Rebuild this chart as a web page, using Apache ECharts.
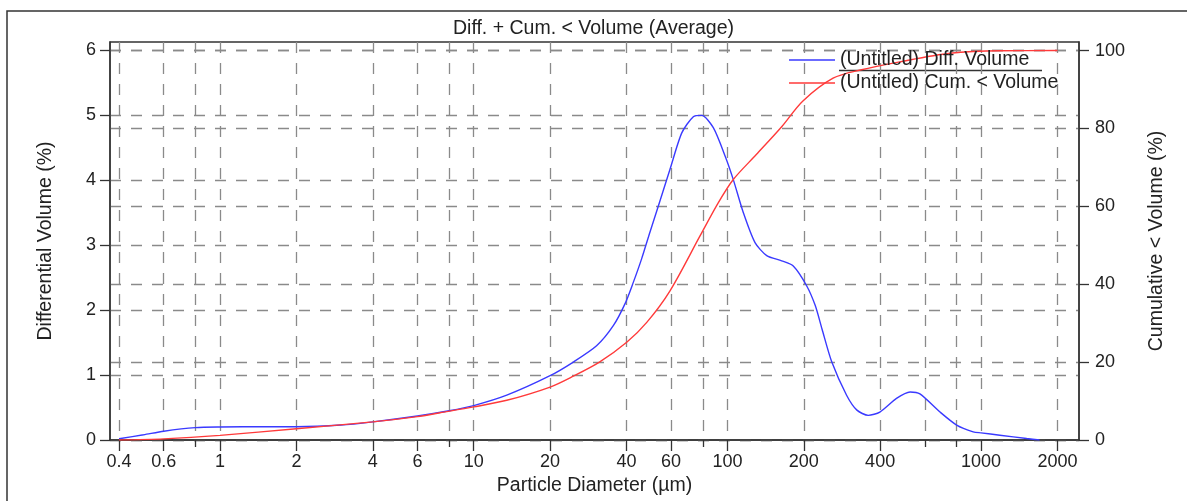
<!DOCTYPE html>
<html>
<head>
<meta charset="utf-8">
<script src="https://cdn.jsdelivr.net/npm/echarts@6/dist/echarts.min.js"></script>
<style>
  html, body { margin: 0; padding: 0; background: #fff; }
  #chart { width: 1187px; height: 501px; }
</style>
</head>
<body>
<div id="chart"></div>
<script>
// particle diameters (um) and values
const diffSizes = [0.4, 0.5, 0.6, 0.8, 1, 1.5, 2, 3, 4, 6, 8, 10, 13.5, 20, 24.7, 30.5, 35.5, 39.5, 42.5, 45.9, 49.5,
    53.4, 59.4, 66.1, 73.4, 79.2, 88, 98, 105.5, 115.6, 128.5, 142.9, 163.7, 181.8, 205, 222, 236, 258,
    295, 324, 359, 399, 464, 525, 574, 689, 801, 931, 1000, 1186, 1513, 1700]
const diffValues = [0.02, 0.08, 0.135, 0.19, 0.2, 0.205, 0.205, 0.23, 0.28, 0.37, 0.45, 0.53, 0.69, 0.99, 1.2, 1.45, 1.76, 2.1, 2.42, 2.79, 3.2,
    3.6, 4.17, 4.73, 4.98, 5.0, 4.81, 4.37, 4.01, 3.5, 3.04, 2.84, 2.76, 2.68, 2.38, 2.07, 1.71, 1.2,
    0.69, 0.46, 0.38, 0.43, 0.64, 0.74, 0.71, 0.43, 0.23, 0.126, 0.11, 0.074, 0.023, 0]

const cumSizes = [0.4, 0.6, 1, 2, 4, 6, 7.37, 10, 13.5, 20, 24.7, 31.3, 40.1, 48.1, 59.4, 78, 92, 105.5, 130,
    164, 198, 261, 334, 478, 755, 1195, 2000]
const cumValues = [0, 0.3, 1.2, 2.9, 4.65, 6.0, 7.0, 8.5, 10.2, 13.6, 16.4, 20.0, 25.1, 30.2, 38.3, 52.4, 60.9, 66.9, 73.3,
    80.5, 87.0, 92.9, 95.0, 97.1, 99.3, 99.95, 100]

const majorTicks = [0.4, 0.6, 1, 2, 4, 6, 10, 20, 40, 60, 100, 200, 400, 1000, 2000]
const minorTicks = [0.8, 8, 80, 600, 800]
const leftTicks = [0, 1, 2, 3, 4, 5, 6]
const rightTicks = [0, 20, 40, 60, 80, 100]

const font = "Liberation Sans, Arial, sans-serif"
const gridLine = { show: true, lineStyle: { color: "#8a8a8a", width: 1.3, type: [11, 10] } }
const tickLine = { color: "#333", width: 1.3 }
const axisLine = { show: true, onZero: false, lineStyle: { color: "#333", width: 1.5 } }

const lg = v => Math.log10(v)
const pairs = (xs, ys) => xs.map((x, i) => [lg(x), ys[i]])

const chart = echarts.init(document.getElementById("chart"), null, { renderer: "canvas" })

chart.setOption({
    animation: false,
    backgroundColor: "#fff",
    textStyle: { fontFamily: font },
    title: {
        text: "Diff. + Cum. < Volume (Average)",
        left: "center",
        top: 14,
        textStyle: { fontFamily: font, fontSize: 19.5, fontWeight: "normal", color: "#222" }
    },
    legend: {
        orient: "vertical",
        left: 789,
        top: 50,
        padding: 0,
        icon: "rect",
        itemWidth: 46,
        itemHeight: 1.4,
        itemGap: 3,
        textStyle: { fontFamily: font, fontSize: 19.5, color: "#222", height: 20, lineHeight: 20 },
        data: ["(Untitled) Diff. Volume", "(Untitled) Cum. < Volume"]
    },
    grid: {
        left: 110, right: 108, top: 42, bottom: 59.5,
        show: true, borderColor: "#333", borderWidth: 1.3,
        backgroundColor: "transparent"
    },
    xAxis: [{
        type: "value",
        min: lg(0.3684),
        max: lg(2432),
        name: "Particle Diameter (µm)",
        nameLocation: "middle",
        nameGap: 36,
        nameTextStyle: { fontFamily: font, fontSize: 19.5, color: "#222" },
        axisLine: axisLine,
        axisTick: { show: true, length: 11, lineStyle: tickLine, customValues: majorTicks.map(lg) },
        axisLabel: {
            margin: 13, fontSize: 18, color: "#222", fontFamily: font,
            customValues: majorTicks.map(lg),
            formatter: v => String(+Math.pow(10, v).toPrecision(3))
        },
        splitLine: gridLine
    }, {
        type: "value",
        position: "bottom",
        min: lg(0.3684),
        max: lg(2432),
        axisLine: { show: false, onZero: false },
        axisTick: { show: true, length: 7, lineStyle: tickLine, customValues: minorTicks.map(lg) },
        axisLabel: { show: false, customValues: minorTicks.map(lg) },
        splitLine: gridLine
    }],
    yAxis: [{
        type: "value",
        min: 0,
        max: 6.13,
        name: "Differential Volume (%)",
        nameLocation: "middle",
        nameGap: 54,
        nameTextStyle: { fontFamily: font, fontSize: 19.5, color: "#222" },
        axisLine: axisLine,
        axisTick: { show: true, length: 10, lineStyle: tickLine, customValues: leftTicks },
        axisLabel: { margin: 14, fontSize: 18, color: "#222", fontFamily: font, customValues: leftTicks },
        splitLine: gridLine
    }, {
        type: "value",
        min: 0,
        max: 102.2,
        position: "right",
        name: "Cumulative < Volume (%)",
        nameLocation: "middle",
        nameGap: 68,
        nameRotate: 90,
        nameTextStyle: { fontFamily: font, fontSize: 19.5, color: "#222" },
        axisLine: axisLine,
        axisTick: { show: true, length: 10, lineStyle: tickLine, customValues: rightTicks },
        axisLabel: { margin: 16, fontSize: 18, color: "#222", fontFamily: font, customValues: rightTicks },
        splitLine: gridLine
    }],
    series: [{
        name: "(Untitled) Diff. Volume",
        type: "line",
        xAxisIndex: 0,
        yAxisIndex: 0,
        smooth: 0.25,
        symbol: "none",
        lineStyle: { color: "#3a3aff", width: 1.4 },
        itemStyle: { color: "#3a3aff" },
        data: pairs(diffSizes, diffValues)
    }, {
        name: "(Untitled) Cum. < Volume",
        type: "line",
        xAxisIndex: 0,
        yAxisIndex: 1,
        smooth: 0.3,
        symbol: "none",
        lineStyle: { color: "#ff3a3a", width: 1.4 },
        itemStyle: { color: "#ff3a3a" },
        data: pairs(cumSizes, cumValues)
    }],
    graphic: [{
        type: "rect",
        shape: { x: 7, y: 11, width: 1200, height: 500 },
        style: { fill: "none", stroke: "#333", lineWidth: 1.5 },
        silent: true
    }, {
        type: "line",
        shape: { x1: 839, y1: 70.5, x2: 1042, y2: 70.5 },
        style: { stroke: "#333", lineWidth: 1.3 },
        silent: true
    }]
})
</script>
</body>
</html>
